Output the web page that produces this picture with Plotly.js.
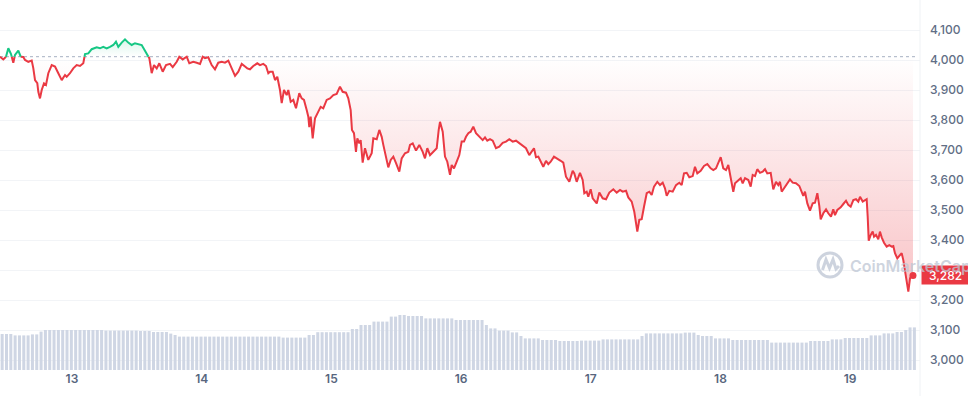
<!DOCTYPE html>
<html>
<head>
<meta charset="utf-8">
<script src="https://cdn.plot.ly/plotly-3.0.1.min.js"></script>
<style>
  html, body { margin: 0; padding: 0; background: #ffffff; }
  #chart { width: 968px; height: 396px; }
</style>
</head>
<body>
<div id="chart"></div>
<script>
// ---- data (ETH / USD, 7 days, 12–19 Mar 2024) ----
const startTimeUTC = Date.UTC(2024, 2, 12, 10, 41); // first sample
// hours since first sample
const hours = [0,0.61,1.11,1.54,2.04,2.46,2.78,3.39,3.83,4.31,4.63,5.24,5.87,6.16,6.48,6.90,7.09,7.40,7.72,8.14,8.51,8.94,9.57,10.18,10.79,11.42,12.03,12.34,12.95,13.56,14.19,14.80,15.41,15.73,16.34,16.97,17.89,18.50,19.11,19.74,20.35,20.97,21.46,21.89,22.52,23.13,23.74,24.37,24.98,25.59,26.22,26.83,27.26,27.63,28.07,28.50,29.00,29.48,
30.11,30.72,31.46,31.96,32.70,33.18,33.81,34.55,35.03,35.77,36.40,37.01,37.51,37.93,38.54,39.17,39.78,40.39,41.02,41.63,42.25,42.87,43.49,44.10,44.73,45.34,45.76,46.26,46.87,47.61,48.11,48.72,49.22,49.65,49.96,50.46,50.89,51.31,51.81,52.13,52.55,53.05,53.35,53.79,54.27,54.77,55.38,55.83,56.25,56.75,57.05,57.23,57.49,57.86,58.29,58.90,59.34,59.82,60.45,61.06,61.68,62.30,62.91,63.41,64.02,
64.45,64.89,65.13,65.50,65.87,66.12,66.49,66.74,67.11,67.54,68.15,68.78,69.08,69.71,70.19,70.63,70.93,71.43,71.85,72.30,72.78,73.28,73.89,74.33,74.94,75.55,75.87,76.37,76.98,77.59,78.22,78.64,79.07,79.57,80.18,80.81,81.18,81.42,81.92,82.34,82.77,83.27,83.58,84.01,84.51,84.99,85.43,85.86,86.23,86.66,87.10,87.58,88.08,88.69,89.32,89.75,90.17,90.67,91.17,91.78,92.39,93.02,93.63,94.24,94.87,95.48,96.09,96.72,97.33,97.94,98.39,98.81,99.18,99.61,
100.53,101.03,101.46,101.90,102.51,103.12,103.75,104.23,104.73,105.35,105.97,106.27,106.71,107.32,107.82,108.12,108.56,108.86,109.30,109.67,110.10,110.42,110.90,111.52,112.14,112.75,113.49,114.12,114.73,115.22,115.84,116.26,116.89,117.37,117.69,117.93,118.30,118.74,119.17,119.67,120.15,120.59,121.02,121.63,122.13,122.63,123.05,123.37,123.85,124.48,125.09,125.70,126.14,126.57,127.07,127.55,128.18,128.60,129.03,129.66,130.27,130.88,131.51,131.99,132.49,132.92,133.36,
133.84,134.34,134.77,135.21,135.69,136.01,136.62,137.06,137.43,137.86,138.47,138.91,139.28,139.71,140.13,140.63,141.13,141.56,141.98,142.61,143.09,143.59,144.02,144.33,144.65,145.26,145.69,146.18,146.68,147.29,147.91,148.35,148.64,148.96,149.39,149.88,150.38,150.81,151.24,151.61,151.86,152.35,152.85,153.27,153.77,154.19,154.51,154.94,155.56,156.05,156.55,156.97,157.41,157.90,158.40,158.82,159.14,159.64,160.06,160.37,160.56,160.75,161.12,161.49,161.73,162.10,162.52,162.83,163.15,163.58,164.07,164.56,165.00,165.30,165.61,166.04,166.41,166.85,167.15,167.46,167.78,168.08,168.39,168.70,168.94];

const prices = [4011,4002,4011,4039,4020,3991,4017,4031,4011,4010,4000,3994,3998,3973,3933,3923,3894,3872,3900,3922,3917,3956,3983,3978,3956,3933,3950,3944,3956,3972,3983,3980,3989,4020,4022,4036,4042,4039,4044,4039,4044,4050,4061,4044,4058,4069,4058,4050,4056,4053,4050,4031,4017,4006,3956,3983,3972,3989,
3961,3983,3987,3976,3994,4011,4002,4011,3989,3994,3991,3987,4011,4006,4009,3983,3969,3991,3994,3991,3998,3972,3947,3961,3987,3978,3972,3969,3980,3989,3983,3987,3980,3956,3961,3961,3933,3944,3900,3856,3900,3883,3900,3861,3867,3839,3889,3872,3867,3833,3811,3776,3811,3739,3806,3828,3844,3839,3867,3872,3883,3887,3911,3894,3891,
3872,3833,3767,3756,3694,3739,3722,3733,3658,3706,3667,3689,3739,3736,3767,3744,3717,3672,3642,3667,3678,3656,3628,3672,3689,3694,3717,3722,3698,3717,3694,3672,3706,3683,3694,3706,3767,3794,3761,3678,3661,3617,3650,3639,3661,3683,3728,3728,3744,3756,3761,3778,3756,3744,3733,3742,3731,3736,3731,3706,3711,3724,3728,3736,3728,3731,3722,3713,3706,3683,3694,3706,3676,3678,
3644,3664,3653,3661,3678,3672,3664,3658,3611,3594,3631,3622,3594,3624,3600,3556,3561,3544,3569,3539,3531,3522,3558,3539,3536,3558,3569,3558,3567,3561,3564,3542,3528,3494,3456,3428,3467,3469,3511,3556,3561,3550,3578,3594,3583,3591,3572,3547,3564,3561,3583,3591,3583,3622,3624,3609,3613,3644,3622,3631,3647,3653,3639,3633,3639,3656,3676,
3639,3633,3650,3611,3561,3589,3600,3606,3589,3606,3600,3578,3617,3613,3636,3624,3628,3636,3622,3624,3569,3594,3583,3594,3561,3578,3589,3602,3591,3589,3580,3561,3547,3561,3522,3498,3522,3524,3556,3513,3469,3489,3502,3489,3478,3502,3483,3500,3509,3520,3531,3517,3511,3533,3536,3528,3544,3528,3533,3536,3478,3398,3417,3428,3411,3417,3402,3428,3409,3391,3378,3383,3378,3380,3356,3339,3347,3356,3333,3294,3256,3228,3272,3283,3282];

// volume bars, one every 0.8 h (USD billions, 24h rolling)
const volumeStepHours = 0.8;
const volumes = [18.0,18.0,18.0,17.3,17.3,17.3,17.3,17.8,17.8,19.2,
20.0,20.0,20.0,20.0,20.0,20.0,20.0,20.0,20.0,20.0,20.0,20.0,20.0,20.0,
19.7,19.7,19.7,19.7,19.7,19.7,19.7,19.7,19.5,19.5,19.5,19.0,19.0,19.0,19.0,18.2,17.5,
16.7,16.7,16.7,16.7,16.7,16.7,16.7,16.7,16.7,16.7,16.7,16.7,16.7,16.7,16.7,16.7,16.7,16.7,16.7,16.7,16.7,16.7,16.7,16.7,
16.2,16.2,16.2,16.2,16.2,16.2,17.5,17.5,18.9,18.9,18.9,18.9,18.9,18.9,18.9,18.9,20.5,20.5,22.5,22.5,22.5,
24.2,24.2,24.2,24.2,26.7,26.7,27.5,27.5,27.0,27.0,27.0,27.0,25.8,25.8,25.8,25.8,25.8,25.8,25.8,
25.0,25.0,25.0,25.0,25.0,25.0,25.0,22.5,20.8,20.8,19.7,19.7,19.7,18.8,18.8,17.0,15.8,15.8,15.8,15.8,
15.0,15.0,15.0,15.0,14.5,14.5,14.5,14.5,14.5,14.7,14.7,14.7,14.7,14.7,15.3,15.3,15.3,15.3,15.3,15.3,15.3,15.3,15.3,
17.0,18.3,18.3,18.3,18.3,18.3,18.3,18.3,18.3,18.3,18.7,18.7,18.7,17.5,17.0,17.0,17.0,15.8,15.8,15.8,15.8,
15.0,15.0,15.0,15.0,15.0,15.0,15.0,15.0,15.0,13.7,13.7,13.7,13.7,13.7,13.7,13.7,13.7,13.7,
14.5,14.5,14.5,14.5,14.5,15.3,15.3,15.3,16.0,16.0,16.0,16.0,16.0,16.0,17.3,17.3,17.3,18.3,18.3,18.3,19.0,19.0,20.0,21.3,21.3];

const priceTicks = [3000,3100,3200,3300,3400,3500,3600,3700,3800,3900,4000,4100];
const priceTickText = ['3,000','3,100','3,200','','3,400','3,500','3,600','3,700','3,800','3,900','4,000','4,100'];

// ---- derived drawing series ----
const HOUR = 3600e3;
const RED = '#ea3943', GREEN = '#16c784';
const basePrice = prices[0];               // opening price of the window (dotted reference)
const lastPrice = prices[prices.length - 1];
const times = hours.map(h => startTimeUTC + h * HOUR);

const xs = [], lowFill = [], highFill = [], redLine = [], greenLine = [];
for (let i = 0; i < prices.length; i++) {
  if (i > 0) {
    const a = prices[i - 1] - basePrice, b = prices[i] - basePrice;
    if (a * b < 0) {
      const f = a / (a - b);
      xs.push(times[i - 1] + f * (times[i] - times[i - 1]));
      lowFill.push(basePrice); highFill.push(basePrice);
      redLine.push(basePrice); greenLine.push(basePrice);
    }
  }
  const p = prices[i];
  xs.push(times[i]);
  lowFill.push(Math.min(p, basePrice));
  highFill.push(Math.max(p, basePrice));
  redLine.push(p <= basePrice ? p : null);
  greenLine.push(p >= basePrice ? p : null);
}
const baseLine = xs.map(() => basePrice);
const volTimes = volumes.map((v, i) => startTimeUTC + (i + 0.5) * volumeStepHours * HOUR);

// ---- geometry helpers (pixel -> paper) ----
const PLOT_W = 920, PLOT_TOP = 15, PLOT_BOTTOM = 370;
const PLOT_H = PLOT_BOTTOM - PLOT_TOP;
const pxX = p => p / PLOT_W;
const pxY = p => (PLOT_BOTTOM - p) / PLOT_H;
const xEnd = startTimeUTC + (PLOT_W / 129.7) * 24 * HOUR;

const traces = [
  { type: 'bar', x: volTimes, y: volumes, yaxis: 'y2',
    marker: { color: '#cfd6e4', line: { width: 0 } }, hoverinfo: 'skip' },
  { type: 'scatter', mode: 'lines', x: xs, y: baseLine, line: { width: 0 }, hoverinfo: 'skip' },
  { type: 'scatter', mode: 'lines', x: xs, y: lowFill, line: { width: 0 }, fill: 'tonexty',
    fillcolor: 'rgba(234,57,67,0.12)',
    fillgradient: { type: 'vertical', start: Math.min(...prices), stop: basePrice,
      colorscale: [[0, 'rgba(234,57,67,0.30)'], [1, 'rgba(234,57,67,0.0)']] },
    hoverinfo: 'skip' },
  { type: 'scatter', mode: 'lines', x: xs, y: baseLine, line: { width: 0 }, hoverinfo: 'skip' },
  { type: 'scatter', mode: 'lines', x: xs, y: highFill, line: { width: 0 }, fill: 'tonexty',
    fillcolor: 'rgba(22,199,132,0.08)',
    fillgradient: { type: 'vertical', start: basePrice, stop: Math.max(...prices),
      colorscale: [[0, 'rgba(22,199,132,0.0)'], [1, 'rgba(22,199,132,0.16)']] },
    hoverinfo: 'skip' },
  { type: 'scatter', mode: 'lines', x: xs, y: redLine, connectgaps: false,
    line: { color: RED, width: 2 }, hoverinfo: 'skip' },
  { type: 'scatter', mode: 'lines', x: xs, y: greenLine, connectgaps: false,
    line: { color: GREEN, width: 2 }, hoverinfo: 'skip' },
  { type: 'scatter', mode: 'markers', x: [times[times.length - 1]], y: [lastPrice],
    marker: { color: RED, size: 7 }, hoverinfo: 'skip' }
];

const fontFamily = 'Inter, "Open Sans", sans-serif';
const layout = {
  width: 968, height: 396,
  margin: { l: 0, r: 968 - PLOT_W, t: PLOT_TOP, b: 396 - PLOT_BOTTOM, pad: 0 },
  paper_bgcolor: '#ffffff', plot_bgcolor: '#ffffff',
  showlegend: false, hovermode: false, bargap: 0.3,
  font: { family: fontFamily },
  xaxis: {
    type: 'date', range: [startTimeUTC, xEnd],
    tick0: Date.UTC(2024, 2, 13), dtick: 86400000, tickformat: '%-d',
    showgrid: false, zeroline: false, showline: false, ticks: '',
    tickfont: { size: 12, color: '#58667e', weight: 600 },
    fixedrange: true
  },
  yaxis: {
    side: 'right', range: [4000 - (PLOT_BOTTOM - 60) / 0.3, 4000 + (60 - PLOT_TOP) / 0.3],
    tickmode: 'array', tickvals: priceTicks, ticktext: priceTickText,
    showgrid: true, gridcolor: '#f2f4f7', gridwidth: 1, zeroline: false,
    showline: false, ticks: '', ticklabelstandoff: 9,
    tickfont: { size: 12, color: '#616e85', weight: 500 },
    fixedrange: true
  },
  yaxis2: {
    overlaying: 'y', range: [0, PLOT_H * 0.5], visible: false, fixedrange: true
  },
  shapes: [
    { type: 'line', xref: 'paper', yref: 'y', x0: 0, x1: pxX(917), y0: basePrice, y1: basePrice,
      line: { color: '#a7b1c2', width: 1, dash: 'dot' }, layer: 'below' },
    { type: 'line', xref: 'paper', yref: 'paper', x0: 1, x1: 1, y0: pxY(396), y1: pxY(0),
      line: { color: '#eff2f5', width: 1 } },
    { type: 'circle', xref: 'paper', yref: 'paper',
      x0: pxX(818), x1: pxX(842), y0: pxY(277), y1: pxY(253),
      line: { color: 'rgba(196,203,216,0.85)', width: 3 } },
    { type: 'path', xref: 'paper', yref: 'paper',
      path: 'M ' + pxX(822.5) + ' ' + pxY(270) + ' L ' + pxX(826) + ' ' + pxY(259.5) +
            ' L ' + pxX(829.5) + ' ' + pxY(268) + ' L ' + pxX(833) + ' ' + pxY(259.5) +
            ' L ' + pxX(836) + ' ' + pxY(269) + ' L ' + pxX(839) + ' ' + pxY(266),
      line: { color: 'rgba(196,203,216,0.85)', width: 3 } }
  ],
  annotations: [
    { xref: 'paper', yref: 'y', x: 1, y: lastPrice, xanchor: 'left', yanchor: 'middle',
      xshift: 1, text: lastPrice.toLocaleString('en-US'), showarrow: false,
      bgcolor: RED, width: 47, height: 18, borderpad: 0, align: 'center',
      font: { color: '#ffffff', size: 12, family: fontFamily, weight: 500 } },
    { xref: 'paper', yref: 'paper', x: pxX(848), y: pxY(266), xanchor: 'left', yanchor: 'middle',
      text: 'CoinMarketCap', showarrow: false,
      font: { color: 'rgba(190,198,212,0.75)', size: 16, family: fontFamily, weight: 600 } }
  ]
};

Plotly.newPlot('chart', traces, layout, { displayModeBar: false, staticPlot: true });
</script>
</body>
</html>
